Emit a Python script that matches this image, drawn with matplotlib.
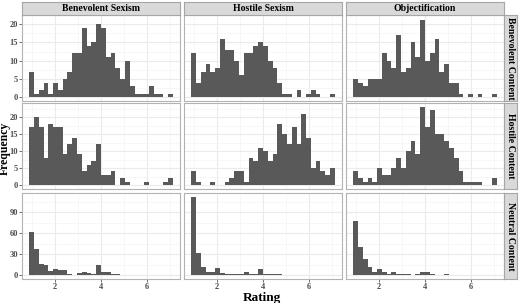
import numpy as np
import matplotlib
matplotlib.use('Agg')
import matplotlib.pyplot as plt

plt.rcParams['font.family'] = ['Liberation Serif', 'DejaVu Serif']

measures = ['Benevolent Sexism', 'Hostile Sexism', 'Objectification']
contents = ['Benevolent Content', 'Hostile Content', 'Neutral Content']

# 30 bins over the ratings 1..7 (bin centres), counts per facet
rating_min, rating_max, n_bins = 1.0, 7.0, 30

# benevolent content row
bc_bs = [7, 1, 2, 4, 1, 4, 2, 5, 7, 12, 12, 19, 14, 15, 20, 19, 11, 12, 8, 5,
         10, 3, 1, 1, 1, 3, 1, 1, 0, 1]
bc_hs = [12, 4, 7, 9, 7, 8, 16, 13, 13, 10, 6, 12, 12, 14, 15, 14, 10, 8, 4, 1,
         1, 0, 2, 0, 1, 2, 1, 0, 0, 1]
bc_ob = [5, 4, 3, 5, 5, 5, 12, 10, 8, 17, 7, 8, 15, 11, 21, 10, 12, 16, 7, 9,
         4, 4, 1, 0, 1, 0, 1, 0, 0, 1]
# hostile content row
hc_bs = [17, 20, 17, 8, 18, 17, 17, 9, 12, 14, 9, 4, 6, 7, 12, 3, 3, 4, 0, 2,
         1, 0, 0, 0, 1, 0, 0, 0, 1, 2]
hc_hs = [4, 1, 0, 0, 1, 0, 0, 1, 2, 4, 4, 1, 8, 7, 11, 10, 7, 9, 18, 15,
         12, 17, 12, 21, 14, 5, 7, 4, 3, 5]
hc_ob = [4, 2, 1, 2, 1, 5, 3, 3, 5, 8, 5, 10, 13, 9, 23, 17, 22, 15, 15, 13,
         11, 8, 4, 1, 1, 1, 1, 0, 0, 2]
# neutral content row
nc_bs = [62, 38, 16, 14, 6, 9, 7, 7, 1, 0, 3, 5, 3, 1, 14, 4, 5, 1, 1, 0,
         0, 0, 0, 0, 0, 0, 0, 0, 0, 0]
nc_hs = [112, 31, 12, 4, 4, 10, 3, 1, 2, 1, 1, 4, 1, 1, 9, 1, 1, 1, 1, 0,
         0, 0, 0, 0, 0, 0, 0, 0, 0, 0]
nc_ob = [77, 40, 23, 11, 5, 9, 5, 2, 5, 1, 1, 2, 0, 2, 5, 5, 2, 0, 0, 1,
         0, 0, 0, 0, 0, 0, 0, 0, 0, 0]

counts = [[bc_bs, bc_hs, bc_ob],
          [hc_bs, hc_hs, hc_ob],
          [nc_bs, nc_hs, nc_ob]]

row_ticks = [[0, 5, 10, 15, 20], [0, 5, 10, 15, 20], [0, 30, 60, 90]]
x_ticks = [2, 4, 6]

bin_w = (rating_max - rating_min) / (n_bins - 1)
centres = rating_min + bin_w * np.arange(n_bins)

W, H = 520, 303
fig = plt.figure(figsize=(W / 100, H / 100), dpi=100)

col_x = [22, 184, 346]
col_w = 158
row_y = [15, 103, 193]
row_h = 86
border = '#B3B3B3'
grid = '#EBEBEB'


def px_axes(x, y, w, h):
    return fig.add_axes([x / W, 1 - (y + h) / H, w / W, h / H])


def strip(x, y, w, h, label, rot):
    st = px_axes(x, y, w, h)
    st.set_facecolor('#D9D9D9')
    st.set_xticks([])
    st.set_yticks([])
    for s in st.spines.values():
        s.set_color('#A6A6A6')
        s.set_linewidth(0.8)
    st.text(0.5, 0.5, label, ha='center', va='center', rotation=rot,
            fontsize=7, fontweight='bold', transform=st.transAxes)


for r in range(3):
    ymax = max(max(c) for c in counts[r])
    for c in range(3):
        ax = px_axes(col_x[c], row_y[r], col_w, row_h)
        ax.bar(centres, counts[r][c], width=bin_w, color='#595959',
               linewidth=0, zorder=3)
        lo, hi = rating_min - bin_w / 2, rating_max + bin_w / 2
        pad = (hi - lo) * 0.05
        ax.set_xlim(lo - pad, hi + pad)
        ax.set_ylim(-ymax * 0.05, ymax * 1.05)
        ax.set_xticks(x_ticks)
        ax.set_xticks([1, 3, 5, 7], minor=True)
        yt = row_ticks[r]
        ax.set_yticks(yt)
        ax.set_yticks([(a + b) / 2 for a, b in zip(yt[:-1], yt[1:])] +
                      [yt[-1] + (yt[1] - yt[0]) / 2], minor=True)
        ax.grid(True, which='major', color=grid, linewidth=0.8, zorder=0)
        ax.grid(True, which='minor', color='#F4F4F4', linewidth=0.5, zorder=0)
        for s in ax.spines.values():
            s.set_color(border)
            s.set_linewidth(0.8)
        ax.tick_params(which='major', length=2, width=0.5, color='#333333',
                       labelsize=6, labelcolor='#4D4D4D', pad=1)
        ax.tick_params(which='minor', length=0)
        if c > 0:
            ax.set_yticklabels([])
            ax.tick_params(axis='y', which='major', length=0)
        if r < 2:
            ax.set_xticklabels([])
            ax.tick_params(axis='x', which='major', length=0)
        for lab in ax.get_xticklabels() + ax.get_yticklabels():
            lab.set_fontweight('bold')

        if r == 0:
            strip(col_x[c], 2, col_w, 13, measures[c], 0)
        if c == 2:
            strip(504, row_y[r], 13, row_h, contents[r], -90)

fig.text(4.5 / W, 1 - 148 / H, 'Frequency', rotation=90, ha='center',
         va='center', fontsize=8.5, fontweight='bold')
fig.text(262 / W, 1 - 297.5 / H, 'Rating', ha='center', va='center',
         fontsize=9.5, fontweight='bold')

fig.savefig('out.png', dpi=100)
